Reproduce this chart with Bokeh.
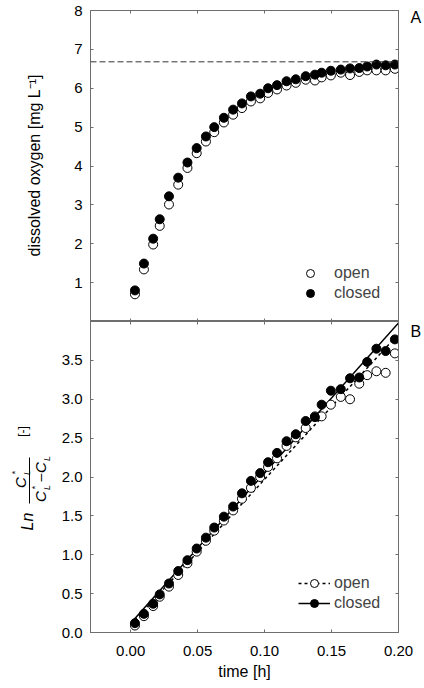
import math
from bokeh.plotting import figure
from bokeh.models import (Range1d, LinearAxis, FixedTicker, Span, Legend, LegendItem,
                          PrintfTickFormatter, CustomLabelingPolicy)
from bokeh.layouts import column, row
from bokeh.embed import file_html
from bokeh.resources import INLINE
from bokeh.core.properties import value

# ---------------- data ----------------
time_h = [0.0032, 0.0099, 0.0168, 0.0217, 0.0286, 0.0355, 0.0424, 0.0493, 0.0562, 0.0624,
          0.0696, 0.0765, 0.0831, 0.0898, 0.0967, 0.1026, 0.1093, 0.1164, 0.1233, 0.1307,
          0.1376, 0.1426, 0.1495, 0.1569, 0.1638, 0.1707, 0.1766, 0.1835, 0.1904, 0.1973]

do_open = [0.70, 1.34, 1.98, 2.46, 3.01, 3.52, 3.95, 4.33, 4.63, 4.87,
           5.12, 5.32, 5.49, 5.66, 5.74, 5.88, 5.97, 6.07, 6.14, 6.22,
           6.20, 6.28, 6.33, 6.40, 6.34, 6.42, 6.46, 6.46, 6.46, 6.50]
do_closed = [0.80, 1.49, 2.13, 2.63, 3.22, 3.70, 4.09, 4.46, 4.76, 5.00,
             5.24, 5.45, 5.61, 5.79, 5.86, 6.00, 6.08, 6.18, 6.23, 6.31,
             6.35, 6.40, 6.45, 6.48, 6.51, 6.52, 6.56, 6.61, 6.59, 6.61]
saturation_do = 6.68

ln_open = [0.09, 0.21, 0.34, 0.46, 0.59, 0.74, 0.89, 1.04, 1.18, 1.31,
           1.44, 1.57, 1.72, 1.86, 2.00, 2.13, 2.24, 2.40, 2.51, 2.63,
           2.78, 2.78, 2.93, 3.03, 3.00, 3.20, 3.31, 3.36, 3.34, 3.59]
ln_closed = [0.12, 0.24, 0.37, 0.49, 0.63, 0.79, 0.93, 1.08, 1.22, 1.35,
             1.49, 1.62, 1.79, 1.95, 2.05, 2.19, 2.31, 2.46, 2.55, 2.72,
             2.77, 2.93, 3.11, 3.13, 3.27, 3.28, 3.48, 3.65, 3.62, 3.77]

fit_time = [0.0, 0.20]
fit_open = [0.10, 3.84]
fit_closed = [0.12, 3.98]

x_ticks = [0.0, 0.05, 0.10, 0.15, 0.20]
y_ticks_top = [1, 2, 3, 4, 5, 6, 7, 8]
y_ticks_bottom = [0.0, 0.5, 1.0, 1.5, 2.0, 2.5, 3.0, 3.5]

# panel letters, placed beside the top right corner of each panel (in axis units)
letter_a_at = 7.82
letter_b_at = 3.91

FONT = "Liberation Sans"
AX = "#6e6e6e"
TOTAL_H = 686
LEFT_W = 56
FIG_W = 424 - LEFT_W

NO_LABELS = CustomLabelingPolicy(code="""
try { for (let i = 0; i < indices.size; i++) { indices.unset(i) } } catch (e) {}
return indices
""")


def style_axis(ax, ticks, labels, fmt=None):
    ax.ticker = FixedTicker(ticks=ticks)
    ax.major_tick_in = 3
    ax.major_tick_out = 0
    ax.minor_tick_line_color = None
    ax.axis_line_color = AX
    ax.major_tick_line_color = AX
    ax.major_label_text_font = FONT
    ax.major_label_text_color = "black"
    if labels:
        ax.major_label_text_font_size = "15px"
        ax.major_label_standoff = 8
        if fmt:
            ax.formatter = PrintfTickFormatter(format=fmt)
    else:
        ax.major_label_text_font_size = "0px"
        ax.major_label_standoff = 0
        ax.major_label_policy = NO_LABELS


def letter_axis(p, at, letter):
    ax = LinearAxis(ticker=FixedTicker(ticks=[at]),
                    formatter=PrintfTickFormatter(format=letter))
    ax.axis_line_color = None
    ax.major_tick_line_color = None
    ax.minor_tick_line_color = None
    ax.major_tick_in = 0
    ax.major_tick_out = 0
    ax.major_label_standoff = 12
    ax.major_label_text_font = FONT
    ax.major_label_text_font_size = "16px"
    ax.major_label_text_color = "black"
    p.add_layout(ax, "right")


def make_fig(height, y_range, top, bottom):
    p = figure(width=FIG_W, height=height, x_range=Range1d(-0.03, 0.20), y_range=y_range,
               output_backend="svg", toolbar_location=None,
               min_border_left=34, min_border_right=24, min_border_top=top,
               min_border_bottom=bottom)
    p.grid.visible = False
    p.outline_line_color = AX
    p.background_fill_color = "white"
    p.border_fill_color = "white"
    return p


def text_fig(width, x0):
    f = figure(width=width, height=TOTAL_H, x_range=Range1d(x0, x0 + width),
               y_range=Range1d(0, TOTAL_H), x_axis_type=None, y_axis_type=None,
               output_backend="svg", toolbar_location=None, min_border=0)
    f.outline_line_color = None
    f.border_fill_color = "white"
    f.background_fill_color = "white"
    return f


def txt(f, s, px, py, size, style="normal", angle=math.pi / 2):
    f.text(x=[px], y=[TOTAL_H - py], text=[s], angle=angle,
           text_font=value(FONT), text_font_size=value(size),
           text_font_style=value(style), text_color="black",
           text_align=value("center"), text_baseline=value("middle"))


# ---------------- panel A ----------------
p1 = make_fig(321, Range1d(0, 8), 10, 0)
style_axis(p1.xaxis[0], x_ticks, False)
style_axis(p1.yaxis[0], y_ticks_top, True, "%d")
a_top = LinearAxis()
style_axis(a_top, x_ticks, False)
p1.add_layout(a_top, "above")
a_right = LinearAxis()
style_axis(a_right, y_ticks_top, False)
p1.add_layout(a_right, "right")
letter_axis(p1, letter_a_at, "A")

p1.add_layout(Span(location=saturation_do, dimension="width", line_color="#333333",
                   line_width=1, line_dash="6 3"))
r_o = p1.scatter(time_h, do_open, size=9, marker="circle", fill_color="white",
                 line_color="black", line_width=1)
r_c = p1.scatter(time_h, do_closed, size=9, marker="circle", fill_color="black",
                 line_color="black", line_width=1)
leg1 = Legend(items=[LegendItem(label="open", renderers=[r_o]),
                     LegendItem(label="closed", renderers=[r_c])],
              location=(210, 18), glyph_width=20, glyph_height=20, label_height=20,
              label_standoff=14, spacing=0, padding=0, margin=0,
              border_line_color=None, background_fill_alpha=0,
              label_text_font=FONT, label_text_font_size="16px")
p1.add_layout(leg1)

# ---------------- panel B ----------------
p2 = make_fig(TOTAL_H - 321, Range1d(0, 4), 0, TOTAL_H - 632)
style_axis(p2.xaxis[0], x_ticks, True, "%.2f")
p2.xaxis[0].major_label_standoff = 13
p2.xaxis[0].axis_label = "time [h]"
p2.xaxis[0].axis_label_text_font = FONT
p2.xaxis[0].axis_label_text_font_size = "16px"
p2.xaxis[0].axis_label_text_font_style = "normal"
p2.xaxis[0].axis_label_text_color = "black"
p2.xaxis[0].axis_label_standoff = 4
style_axis(p2.yaxis[0], y_ticks_bottom, True, "%.1f")
b_top = LinearAxis()
style_axis(b_top, x_ticks, False)
p2.add_layout(b_top, "above")
b_right = LinearAxis()
style_axis(b_right, y_ticks_bottom, False)
p2.add_layout(b_right, "right")
letter_axis(p2, letter_b_at, "B")

l_o = p2.line(fit_time, fit_open, line_color="black", line_width=1.5, line_dash="3 3")
l_c = p2.line(fit_time, fit_closed, line_color="black", line_width=1.5)
s_o = p2.scatter(time_h, ln_open, size=9, marker="circle", fill_color="white",
                 line_color="black", line_width=1)
s_c = p2.scatter(time_h, ln_closed, size=9, marker="circle", fill_color="black",
                 line_color="black", line_width=1)
leg2 = Legend(items=[LegendItem(label="open", renderers=[l_o, s_o]),
                     LegendItem(label="closed", renderers=[l_c, s_c])],
              location=(208, 19), glyph_width=32, glyph_height=20, label_height=20,
              label_standoff=4, spacing=0, padding=0, margin=0,
              border_line_color=None, background_fill_alpha=0,
              label_text_font=FONT, label_text_font_size="16px")
p2.add_layout(leg2)

# ---------------- y axis titles (page pixel positions) ----------------
lf = text_fig(LEFT_W, 0)
txt(lf, "dissolved oxygen [mg L\u207b\u00b9]", 34, 165, "16px")
txt(lf, "Ln", 27, 521, "16px", "italic")
txt(lf, "C", 20, 482, "15px", "italic")
txt(lf, "L", 26, 472, "9px", "italic")
txt(lf, "*", 14, 472, "9px")
lf.line(x=[29, 29], y=[TOTAL_H - 503, TOTAL_H - 457], line_color="black", line_width=1)
txt(lf, "C", 40, 496, "15px", "italic")
txt(lf, "*", 34, 487, "9px")
txt(lf, "L", 46, 487, "9px", "italic")
txt(lf, "\u2013", 39, 477, "14px")
txt(lf, "C", 40, 467, "15px", "italic")
txt(lf, "L", 46, 458, "9px", "italic")
txt(lf, "[-]", 22, 431, "12px")

layout = row(lf, column(p1, p2, spacing=0), spacing=0)
open("out.html", "w").write(file_html(layout, INLINE))
